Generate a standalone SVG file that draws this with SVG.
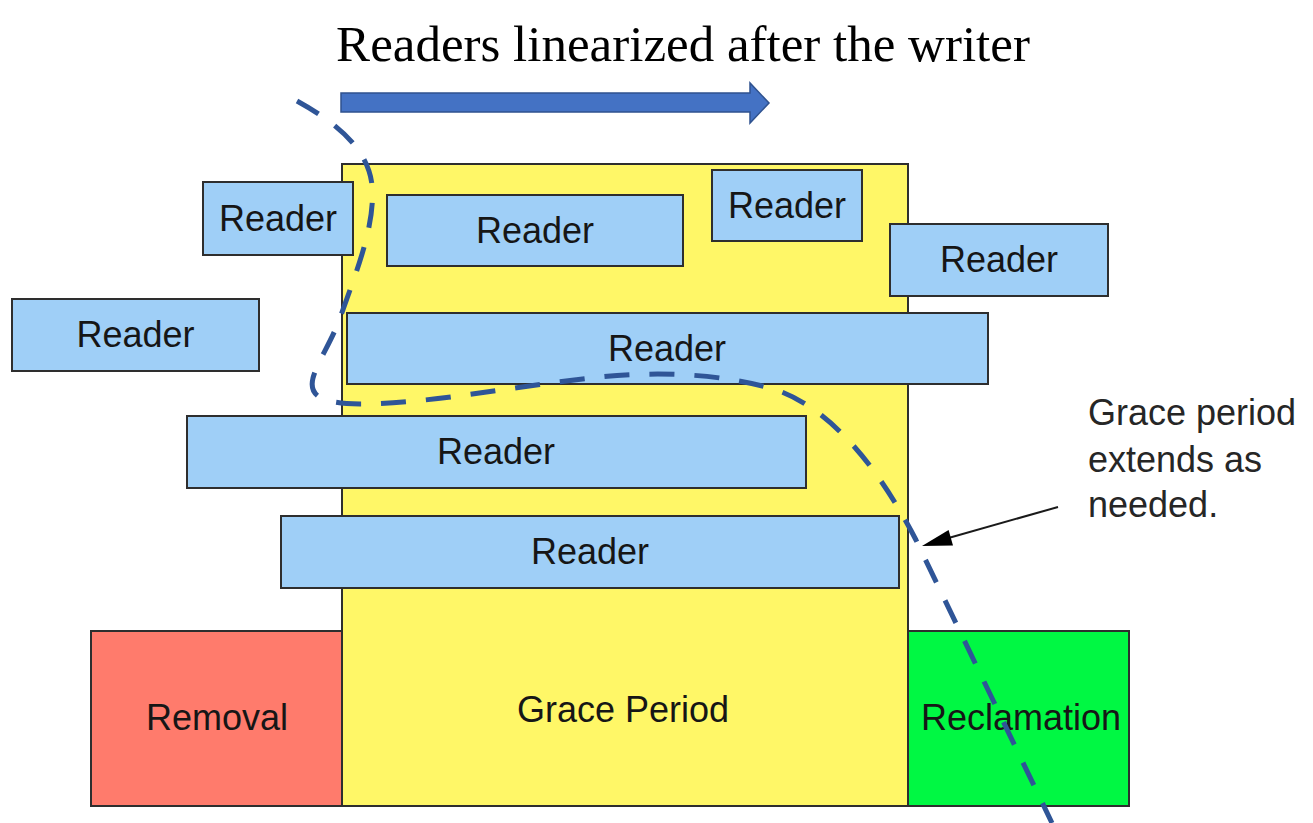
<svg xmlns="http://www.w3.org/2000/svg" width="1313" height="823" viewBox="0 0 1313 823">
<style>
.box{stroke:#2e2e2e;stroke-width:2}
.reader{fill:#9fcff7}
.lbl{font-family:"Liberation Sans",Arial,sans-serif;font-size:36px;fill:#161616;text-anchor:middle}
.note{font-family:"Liberation Sans",Arial,sans-serif;font-size:36px;fill:#262626}
.title{font-family:"Liberation Serif","Times New Roman",serif;font-size:51px;fill:#000;text-anchor:middle}
.dash{fill:none;stroke:#2f5597;stroke-width:5;stroke-dasharray:25 20}
</style>
<rect width="1313" height="823" fill="#fff"/>
<text class="title" x="683" y="61">Readers linearized after the writer</text>
<g id="grace"><rect class="box" x="342" y="164" width="566" height="642" fill="#fff767"/><text class="lbl" x="623" y="722">Grace Period</text></g>
<g id="removal"><rect class="box" x="91" y="631" width="251" height="175" fill="#ff7b6c"/><text class="lbl" x="217" y="730">Removal</text></g>
<g id="reclamation"><rect class="box" x="908" y="631" width="221" height="175" fill="#00f843"/><text class="lbl" x="1021" y="730">Reclamation</text></g>
<g id="reader1"><rect class="box reader" x="203" y="182" width="150" height="73"/><text class="lbl" x="278" y="231">Reader</text></g>
<g id="reader2"><rect class="box reader" x="387" y="195" width="296" height="71"/><text class="lbl" x="535" y="243">Reader</text></g>
<g id="reader3"><rect class="box reader" x="712" y="170" width="150" height="71"/><text class="lbl" x="787" y="218">Reader</text></g>
<g id="reader4"><rect class="box reader" x="890" y="224" width="218" height="72"/><text class="lbl" x="999" y="272">Reader</text></g>
<g id="reader5"><rect class="box reader" x="12" y="299" width="247" height="72"/><text class="lbl" x="135.5" y="347">Reader</text></g>
<g id="reader6"><rect class="box reader" x="347" y="313" width="641" height="71"/><text class="lbl" x="667" y="361">Reader</text></g>
<g id="reader7"><rect class="box reader" x="187" y="416" width="619" height="72"/><text class="lbl" x="496" y="464">Reader</text></g>
<g id="reader8"><rect class="box reader" x="281" y="516" width="618" height="72"/><text class="lbl" x="590" y="564">Reader</text></g>
<g id="connectors">
<path class="dash" d="M297,101 C335,122 368,148 372,185 C376,225 355,275 340,318 C330,345 318,360 313,378 C308,398 325,403 360,404 C430,404 520,385 600,377 C660,371 720,374 770,388 C830,405 880,470 916,540 L1052,823"/>
<path d="M341,93 H750 V83 L769,103 L750,123 V112 H341 Z" fill="#4472c4" stroke="#2f528f" stroke-width="1.5"/>
<line x1="1058" y1="507" x2="945" y2="539" stroke="#1a1a1a" stroke-width="2"/>
<polygon points="922,546 948.6,530 953,545.4" fill="#000"/>
</g>
<g id="annotation">
<text class="note" x="1088" y="425">Grace period</text>
<text class="note" x="1088" y="472">extends as</text>
<text class="note" x="1088" y="517">needed.</text>
</g>
</svg>
